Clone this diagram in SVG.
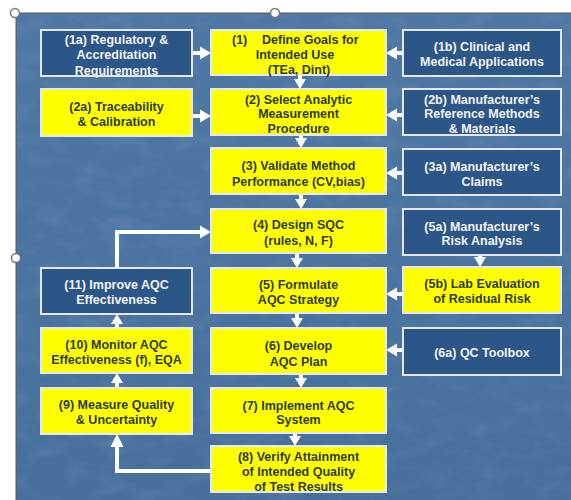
<svg xmlns="http://www.w3.org/2000/svg" width="571" height="500" viewBox="0 0 571 500">
<defs>
<style>
.t{font-family:"Liberation Sans",Arial,sans-serif;font-weight:bold;font-size:12.5px;text-anchor:middle}
.bx{fill:#2c5687;stroke:#e4e8ee;stroke-width:2}
.yx{fill:#ffff00;stroke:#e4e8ee;stroke-width:2}
.bt{fill:#f2f2f2}
.yt{fill:#2f3a2f}
.arr{fill:#ffffff}
.ln{fill:none;stroke:#ffffff;stroke-width:4}
.hd{fill:#ffffff;stroke:#777777;stroke-width:1.5}
</style>
<filter id="tex" x="0" y="0" width="100%" height="100%">
<feTurbulence type="fractalNoise" baseFrequency="0.03 0.06" numOctaves="3" seed="7"/>
<feColorMatrix type="matrix" values="0 0 0 0 1  0 0 0 0 1  0 0 0 0 1  0.5 0 0 0 -0.22"/>
</filter>
<linearGradient id="bg" x1="0" y1="0" x2="0" y2="1">
<stop offset="0" stop-color="#4e77a4"/>
<stop offset="1" stop-color="#466f9c"/>
</linearGradient>
</defs>
<rect x="0" y="0" width="571" height="500" fill="#ffffff"/>
<g id="panel">
<rect x="16" y="13" width="556" height="488" fill="url(#bg)" stroke="#5a5a5a" stroke-width="1"/>
<rect x="17" y="14" width="554" height="486" filter="url(#tex)" opacity="0.35"/>
</g>

<g id="connectors">
<polygon class="arr" points="192,51 200,51 200,46.5 211,53 200,59.5 200,55 192,55"/>
<polygon class="arr" points="192,114 200,114 200,109.5 211,116 200,122.5 200,118 192,118"/>
<polygon class="arr" points="403,51 397,51 397,46.5 386,53 397,59.5 397,55 403,55"/>
<polygon class="arr" points="403,113 397,113 397,108.5 386,115 397,121.5 397,117 403,117"/>
<polygon class="arr" points="403,171 397,171 397,166.5 386,173 397,179.5 397,175 403,175"/>
<polygon class="arr" points="403,292 397,292 397,287.5 386,294 397,300.5 397,296 403,296"/>
<polygon class="arr" points="403,348 397,348 397,343.5 386,350 397,356.5 397,352 403,352"/>
<polygon class="arr" points="298,75 302,75 302,79 306,79 300,89 294,79 298,79"/>
<polygon class="arr" points="299,135 303,135 303,138 307,138 301,148 295,138 299,138"/>
<polygon class="arr" points="299,194 303,194 303,199 307,199 301,209 295,199 299,199"/>
<polygon class="arr" points="295,253 299,253 299,258 303,258 297,268 291,258 295,258"/>
<polygon class="arr" points="295,313 299,313 299,318 303,318 297,328 291,318 295,318"/>
<polygon class="arr" points="299,374 303,374 303,378 307,378 301,388 295,378 299,378"/>
<polygon class="arr" points="293,433 297,433 297,436 301,436 295,446 289,436 293,436"/>
<polygon class="arr" points="478,255 482,255 482,257 486,257 480,267 474,257 478,257"/>
<polygon class="arr" points="115,388 119,388 119,383 123,383 117,373 111,383 115,383"/>
<polygon class="arr" points="115,328 119,328 119,324 123,324 117,314 111,324 115,324"/>
<path class="ln" d="M211,471 H117 V446"/>
<polygon class="arr" points="110.5,447 123.5,447 117,434"/>
<path class="ln" d="M117,268 V232 H201"/>
<polygon class="arr" points="200,225.5 211,232 200,238.5"/>
</g>

<g id="n1a"><rect class="bx" x="41" y="30" width="151" height="46"/>
<text class="t bt" x="116.5" y="43.5">(1a) Regulatory &amp;</text>
<text class="t bt" x="116.5" y="59">Accreditation</text>
<text class="t bt" x="116.5" y="74.5">Requirements</text></g>

<g id="n1"><rect class="yx" x="211" y="30" width="175" height="45"/>
<text class="t yt" x="232" y="43.5" style="text-anchor:start">(1)</text>
<text class="t yt" x="262" y="43.5" style="text-anchor:start">Define Goals for</text>
<text class="t yt" x="295" y="58.5">Intended Use</text>
<text class="t yt" x="299" y="74">(TEa, Dint)</text></g>

<g id="n1b"><rect class="bx" x="403" y="30" width="158" height="46"/>
<text class="t bt" x="482" y="50.5">(1b) Clinical and</text>
<text class="t bt" x="482" y="65.5">Medical Applications</text></g>

<g id="n2a"><rect class="yx" x="41" y="89" width="151" height="47"/>
<text class="t yt" x="116.5" y="110.5">(2a) Traceability</text>
<text class="t yt" x="116.5" y="125.5">&amp; Calibration</text></g>

<g id="n2"><rect class="yx" x="211" y="89" width="175" height="46"/>
<text class="t yt" x="298.5" y="103.5">(2) Select Analytic</text>
<text class="t yt" x="298.5" y="118">Measurement</text>
<text class="t yt" x="298.5" y="132.5">Procedure</text></g>

<g id="n2b"><rect class="bx" x="403" y="89" width="158" height="46"/>
<text class="t bt" x="482" y="103.5">(2b) Manufacturer’s</text>
<text class="t bt" x="482" y="117.5">Reference Methods</text>
<text class="t bt" x="482" y="132.5">&amp; Materials</text></g>

<g id="n3"><rect class="yx" x="211" y="148" width="175" height="46"/>
<text class="t yt" x="298.5" y="169.5">(3) Validate Method</text>
<text class="t yt" x="298.5" y="185.5">Performance (CV,bias)</text></g>

<g id="n3a"><rect class="bx" x="403" y="149" width="158" height="46"/>
<text class="t bt" x="482" y="170.5">(3a) Manufacturer’s</text>
<text class="t bt" x="482" y="185.5">Claims</text></g>

<g id="n4"><rect class="yx" x="211" y="209" width="175" height="44"/>
<text class="t yt" x="298.5" y="228.5">(4) Design SQC</text>
<text class="t yt" x="298.5" y="244.5">(rules, N, F)</text></g>

<g id="n5a"><rect class="bx" x="403" y="209" width="158" height="46"/>
<text class="t bt" x="482" y="230.5">(5a) Manufacturer’s</text>
<text class="t bt" x="482" y="244.5">Risk Analysis</text></g>

<g id="n11"><rect class="bx" x="41" y="268" width="151" height="46"/>
<text class="t bt" x="116.5" y="288.5">(11) Improve AQC</text>
<text class="t bt" x="116.5" y="303.5">Effectiveness</text></g>

<g id="n5"><rect class="yx" x="211" y="268" width="175" height="45"/>
<text class="t yt" x="298.5" y="288.5">(5) Formulate</text>
<text class="t yt" x="298.5" y="303.5">AQC Strategy</text></g>

<g id="n5b"><rect class="yx" x="403" y="267" width="158" height="46"/>
<text class="t yt" x="482" y="287.5">(5b) Lab Evaluation</text>
<text class="t yt" x="482" y="302.5">of Residual Risk</text></g>

<g id="n10"><rect class="yx" x="41" y="328" width="151" height="45"/>
<text class="t yt" x="116.5" y="348.5">(10) Monitor AQC</text>
<text class="t yt" x="116.5" y="363.5">Effectiveness (f), EQA</text></g>

<g id="n6"><rect class="yx" x="211" y="328" width="175" height="46"/>
<text class="t yt" x="298.5" y="349.5">(6) Develop</text>
<text class="t yt" x="298.5" y="365.5">AQC Plan</text></g>

<g id="n6a"><rect class="bx" x="403" y="328" width="158" height="47"/>
<text class="t bt" x="482" y="356.5">(6a) QC Toolbox</text></g>

<g id="n9"><rect class="yx" x="41" y="388" width="151" height="46"/>
<text class="t yt" x="116.5" y="408.5">(9) Measure Quality</text>
<text class="t yt" x="116.5" y="423.5">&amp; Uncertainty</text></g>

<g id="n7"><rect class="yx" x="211" y="388" width="175" height="45"/>
<text class="t yt" x="298.5" y="409.5">(7) Implement AQC</text>
<text class="t yt" x="298.5" y="423.5">System</text></g>

<g id="n8"><rect class="yx" x="211" y="446" width="175" height="46"/>
<text class="t yt" x="298.5" y="460.5">(8) Verify Attainment</text>
<text class="t yt" x="298.5" y="475.5">of Intended Quality</text>
<text class="t yt" x="298.5" y="491">of Test Results</text></g>

<g id="handles">
<circle class="hd" cx="15" cy="13" r="4.5"/>
<circle class="hd" cx="275" cy="13" r="4.5"/>
<circle class="hd" cx="16" cy="258" r="4.5"/>
</g>
</svg>
